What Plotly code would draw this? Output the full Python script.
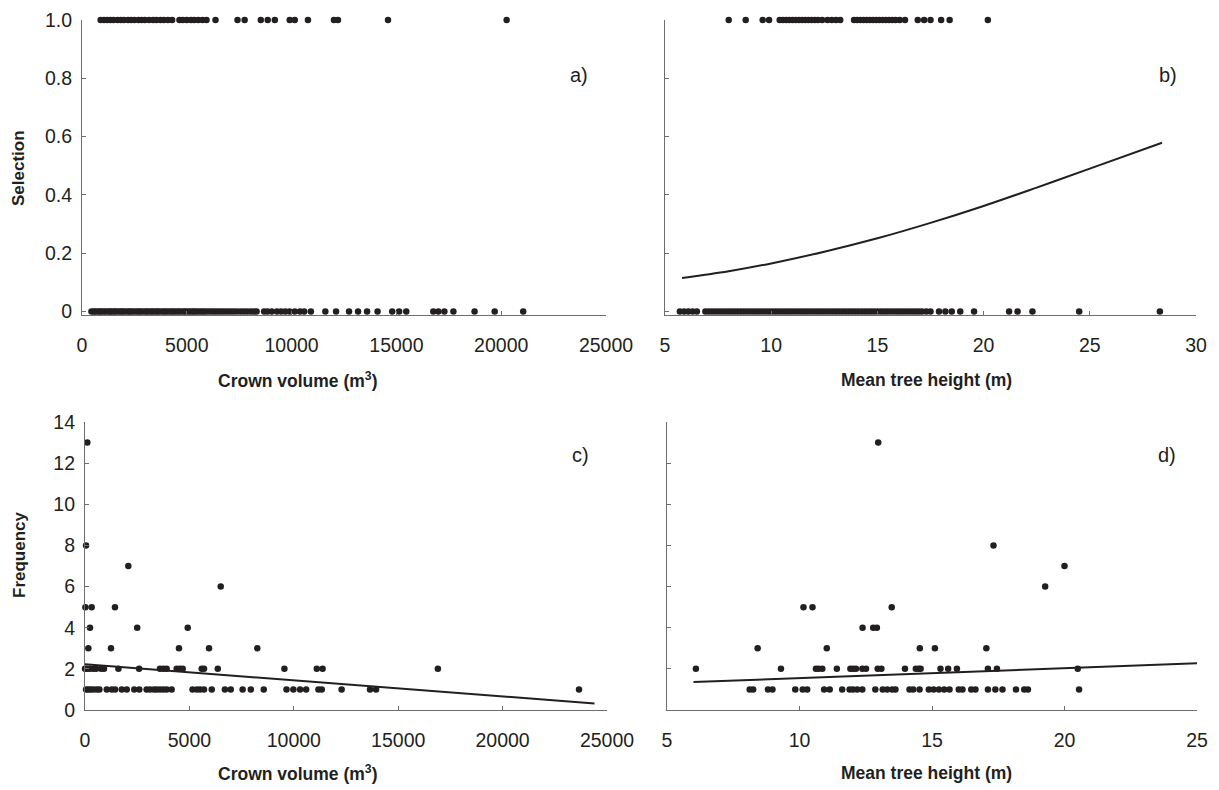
import plotly.graph_objects as go

# page body has an 8px margin; figure is sized/positioned to compensate
OFF = 8
W, H = 1219 - OFF, 790 - OFF

# ---------------- data ----------------
# a) Selection vs crown volume
crown_sel1 = [890, 1050, 1200, 1350, 1500, 1700, 1850, 2000, 2200, 2350, 2500, 2700, 2850,
              3000, 3200, 3400, 3550, 3750, 3900, 4100, 4300, 4650, 4800, 5000, 5200, 5350,
              5550, 5750, 5940, 6370, 7420, 7760, 8530, 8860, 9200, 9910, 10150, 10780,
              12020, 12210, 14600, 20260]
crown_sel0 = [450, 560, 640, 760, 850, 930, 1040, 1130, 1250, 1340, 1420, 1530, 1610, 1720,
              1830, 1920, 2010, 2130, 2240, 2310, 2420, 2530, 2650, 2740, 2830, 2950, 3060,
              3150, 3270, 3360, 3470, 3580, 3650, 3780, 3890, 3980, 4090, 4210, 4320, 4410,
              4530, 4620, 4740, 4860, 4950, 5070, 5180, 5290, 5380, 5490, 5610, 5720, 5830,
              5940, 6080, 6210, 6330, 6460, 6590, 6720, 6850, 6990, 7130, 7270, 7420, 7580,
              7730, 7890, 8050, 8200, 8330, 8690, 8850, 9050, 9300, 9500, 9700, 9900, 10150,
              10400, 10600, 10920, 11610, 12120, 12740, 13170, 13600, 14100, 14800, 15130,
              15470, 16760, 17000, 17290, 17720, 18730, 19690, 21050]

# b) Selection vs mean tree height
height_sel1 = [8.0, 8.8, 9.6, 9.9, 10.4, 10.55, 10.7, 10.85, 11.0, 11.15, 11.3, 11.45, 11.6,
               11.75, 11.9, 12.05, 12.2, 12.4, 12.65, 12.85, 13.05, 13.25, 13.9, 14.05, 14.2,
               14.35, 14.5, 14.65, 14.8, 14.95, 15.1, 15.25, 15.4, 15.55, 15.7, 15.85, 16.05,
               16.3, 16.9, 17.2, 17.5, 18.0, 18.4, 20.2]
height_sel0 = [5.7, 5.9, 6.1, 6.3, 6.5, 6.9, 7.05, 7.2, 7.35, 7.5, 7.65, 7.8, 7.95, 8.1, 8.25,
               8.4, 8.55, 8.7, 8.85, 9.0, 9.15, 9.3, 9.45, 9.6, 9.75, 9.9, 10.05, 10.2, 10.35,
               10.5, 10.65, 10.8, 10.95, 11.1, 11.25, 11.4, 11.55, 11.7, 11.85, 12.0, 12.15,
               12.3, 12.45, 12.6, 12.75, 12.9, 13.05, 13.2, 13.35, 13.5, 13.65, 13.8, 13.95,
               14.1, 14.25, 14.4, 14.55, 14.7, 14.85, 15.0, 15.15, 15.3, 15.45, 15.6, 15.75,
               15.9, 16.05, 16.2, 16.35, 16.5, 16.65, 16.8, 16.95, 17.1, 17.3, 17.5, 17.9,
               18.2, 18.5, 18.9, 19.55, 21.2, 21.6, 22.3, 24.5, 28.3]
logit_x = [5.8, 8, 10, 12.5, 15, 17.5, 20, 22.5, 25, 28.4]
logit_y = [0.115, 0.138, 0.165, 0.205, 0.251, 0.304, 0.362, 0.425, 0.49, 0.579]

# c) Frequency vs crown volume
crown_freq_x = [110, 50, 20, 320, 240, 160, 1435, 1245, 2075, 2500, 4500, 4920, 6500, 5940, 8250,
                0, 110, 240, 400, 530, 770, 910, 1600, 2590, 3590, 3750, 3910, 4390, 4550, 4680,
                5590, 5700, 6360, 9550, 11100, 11380, 16900,
                50, 160, 270, 400, 560, 690, 1040, 1280, 1440, 1760, 2000, 2360, 2600, 2950,
                3110, 3300, 3430, 3590, 3750, 3910, 4150, 5150, 5350, 5510, 5700, 6070, 6700,
                6980, 7550, 7940, 8560, 9650, 9980, 10300, 10590, 11180, 11340, 12290, 13650,
                13940, 23660]
crown_freq_y = [13, 8, 5, 5, 4, 3, 5, 3, 7, 4, 3, 4, 6, 3, 3,
                2, 2, 2, 2, 2, 2, 2, 2, 2, 2, 2, 2, 2, 2, 2,
                2, 2, 2, 2, 2, 2, 2,
                1, 1, 1, 1, 1, 1, 1, 1, 1, 1, 1, 1, 1, 1,
                1, 1, 1, 1, 1, 1, 1, 1, 1, 1, 1, 1, 1,
                1, 1, 1, 1, 1, 1, 1, 1, 1, 1, 1, 1,
                1, 1]
crown_fit_x = [0, 24400]
crown_fit_y = [2.22, 0.32]

# d) Frequency vs mean tree height
height_freq_x = [12.97, 17.32, 20.0, 19.27, 10.15, 10.49, 13.48, 12.38, 12.78, 12.92,
                 8.42, 11.03, 14.54, 15.11, 17.05,
                 6.09, 9.30, 10.62, 10.72, 10.86, 11.41, 11.92, 12.02, 12.13, 12.37, 12.51,
                 12.95, 13.09, 13.98, 14.39, 14.50, 14.57, 15.32, 15.61, 15.94, 17.11, 17.45,
                 20.50,
                 8.12, 8.25, 8.81, 8.98, 9.84, 10.12, 10.29, 10.93, 11.14, 11.61, 11.89, 12.02,
                 12.18, 12.37, 12.86, 13.14, 13.31, 13.50, 13.62, 14.15, 14.29, 14.53, 14.88,
                 15.06, 15.26, 15.46, 15.66, 16.01, 16.15, 16.48, 16.64, 17.11, 17.39, 17.66,
                 18.17, 18.48, 18.62, 20.55]
height_freq_y = [13, 8, 7, 6, 5, 5, 5, 4, 4, 4,
                 3, 3, 3, 3, 3,
                 2, 2, 2, 2, 2, 2, 2, 2, 2, 2, 2,
                 2, 2, 2, 2, 2, 2, 2, 2, 2, 2, 2,
                 2,
                 1, 1, 1, 1, 1, 1, 1, 1, 1, 1, 1, 1,
                 1, 1, 1, 1, 1, 1, 1, 1, 1, 1, 1,
                 1, 1, 1, 1, 1, 1, 1, 1, 1, 1, 1,
                 1, 1, 1, 1]
height_fit_x = [6.0, 25.0]
height_fit_y = [1.36, 2.27]

sel_ticks = [0, 0.2, 0.4, 0.6, 0.8, 1.0]
sel_ticktext = ["0", "0.2", "0.4", "0.6", "0.8", "1.0"]
crown_ticks = [0, 5000, 10000, 15000, 20000, 25000]
height_ticks_b = [5, 10, 15, 20, 25, 30]
height_ticks_d = [5, 10, 15, 20, 25]
freq_ticks = [0, 2, 4, 6, 8, 10, 12, 14]

# ---------------- styling ----------------
INK = "#231f20"
AXC = "#6d6e71"
FONT = "Liberation Sans, Arial, sans-serif"
MK = dict(color=INK, size=6.5)


def px(x):
    return (x - OFF) / W


def py(y):
    return 1 - (y - OFF) / H


fig = go.Figure()

def dots(x, y, xa, ya):
    fig.add_trace(go.Scatter(x=x, y=y, mode="markers", marker=MK, xaxis=xa, yaxis=ya,
                             cliponaxis=False, showlegend=False, hoverinfo="x+y"))

def line(x, y, xa, ya, shape="linear"):
    fig.add_trace(go.Scatter(x=x, y=y, mode="lines", line=dict(color=INK, width=2, shape=shape),
                             xaxis=xa, yaxis=ya, showlegend=False, cliponaxis=False))

# a)
dots(crown_sel1, [1] * len(crown_sel1), "x", "y")
dots(crown_sel0, [0] * len(crown_sel0), "x", "y")
# b)
dots(height_sel1, [1] * len(height_sel1), "x2", "y2")
dots(height_sel0, [0] * len(height_sel0), "x2", "y2")
line(logit_x, logit_y, "x2", "y2", "spline")
# c)
dots(crown_freq_x, crown_freq_y, "x3", "y3")
line(crown_fit_x, crown_fit_y, "x3", "y3")
# d)
dots(height_freq_x, height_freq_y, "x4", "y4")
line(height_fit_x, height_fit_y, "x4", "y4")

common = dict(showline=True, linecolor=AXC, linewidth=1.2, ticks="inside", ticklen=4,
              tickcolor=AXC, tickwidth=1, showgrid=False, zeroline=False, automargin=False,
              tickfont=dict(family=FONT, size=19.5, color=INK), fixedrange=True)

def xax(dom, yanchor, rng, tickv):
    d = dict(common)
    d.update(domain=dom, anchor=yanchor, range=rng, tickvals=tickv,
             ticktext=[str(t) for t in tickv], ticklabelstandoff=12)
    return d

def yax(dom, xanchor, rng, tickv, ticktext=None, labels=True):
    d = dict(common)
    d.update(domain=dom, anchor=xanchor, range=rng, tickvals=tickv,
             ticktext=ticktext if ticktext else [str(t) for t in tickv],
             showticklabels=labels, ticklabelstandoff=5)
    return d

top_dom = [py(315), py(20)]
bot_dom = [py(710), py(422)]

fig.update_layout(
    template="none",
    width=W, height=H,
    margin=dict(l=0, r=0, t=0, b=0, pad=0),
    paper_bgcolor="white", plot_bgcolor="white",
    font=dict(family=FONT, color=INK),
    xaxis=xax([px(82), px(606)], "y", [0, 25000], crown_ticks),
    yaxis=yax(top_dom, "x", [-0.012, 1.0], sel_ticks, sel_ticktext),
    xaxis2=xax([px(665), px(1196)], "y2", [5, 30], height_ticks_b),
    yaxis2=yax(top_dom, "x2", [-0.012, 1.0], sel_ticks, sel_ticktext, labels=False),
    xaxis3=xax([px(85), px(607)], "y3", [0, 25000], crown_ticks),
    yaxis3=yax(bot_dom, "x3", [0, 14], freq_ticks),
    xaxis4=xax([px(667), px(1197)], "y4", [5, 25], height_ticks_d),
    yaxis4=yax(bot_dom, "x4", [0, 14], freq_ticks, labels=False),
)

ann = []
def label(text, x, y, size=17.5, bold=True, angle=0):
    t = f"<b>{text}</b>" if bold else text
    ann.append(dict(text=t, x=px(x), y=py(y), xref="paper", yref="paper", showarrow=False,
                    xanchor="center", yanchor="middle", textangle=angle, borderpad=0,
                    font=dict(family=FONT, size=size, color=INK)))

label("Crown volume (m<sup>3</sup>)", 297, 380)
label("Mean tree height (m)", 927, 380)
label("Crown volume (m<sup>3</sup>)", 297, 773)
label("Mean tree height (m)", 927, 773)
label("Selection", 19, 168, size=17)
ann[-1]["textangle"] = -90
label("Frequency", 19, 555, size=17)
ann[-1]["textangle"] = -90
label("a)", 579, 75, size=20, bold=False)
label("b)", 1168, 75, size=20, bold=False)
label("c)", 580, 455, size=20, bold=False)
label("d)", 1167, 455, size=20, bold=False)
fig.update_layout(annotations=ann)

fig.write_html("out.html")
